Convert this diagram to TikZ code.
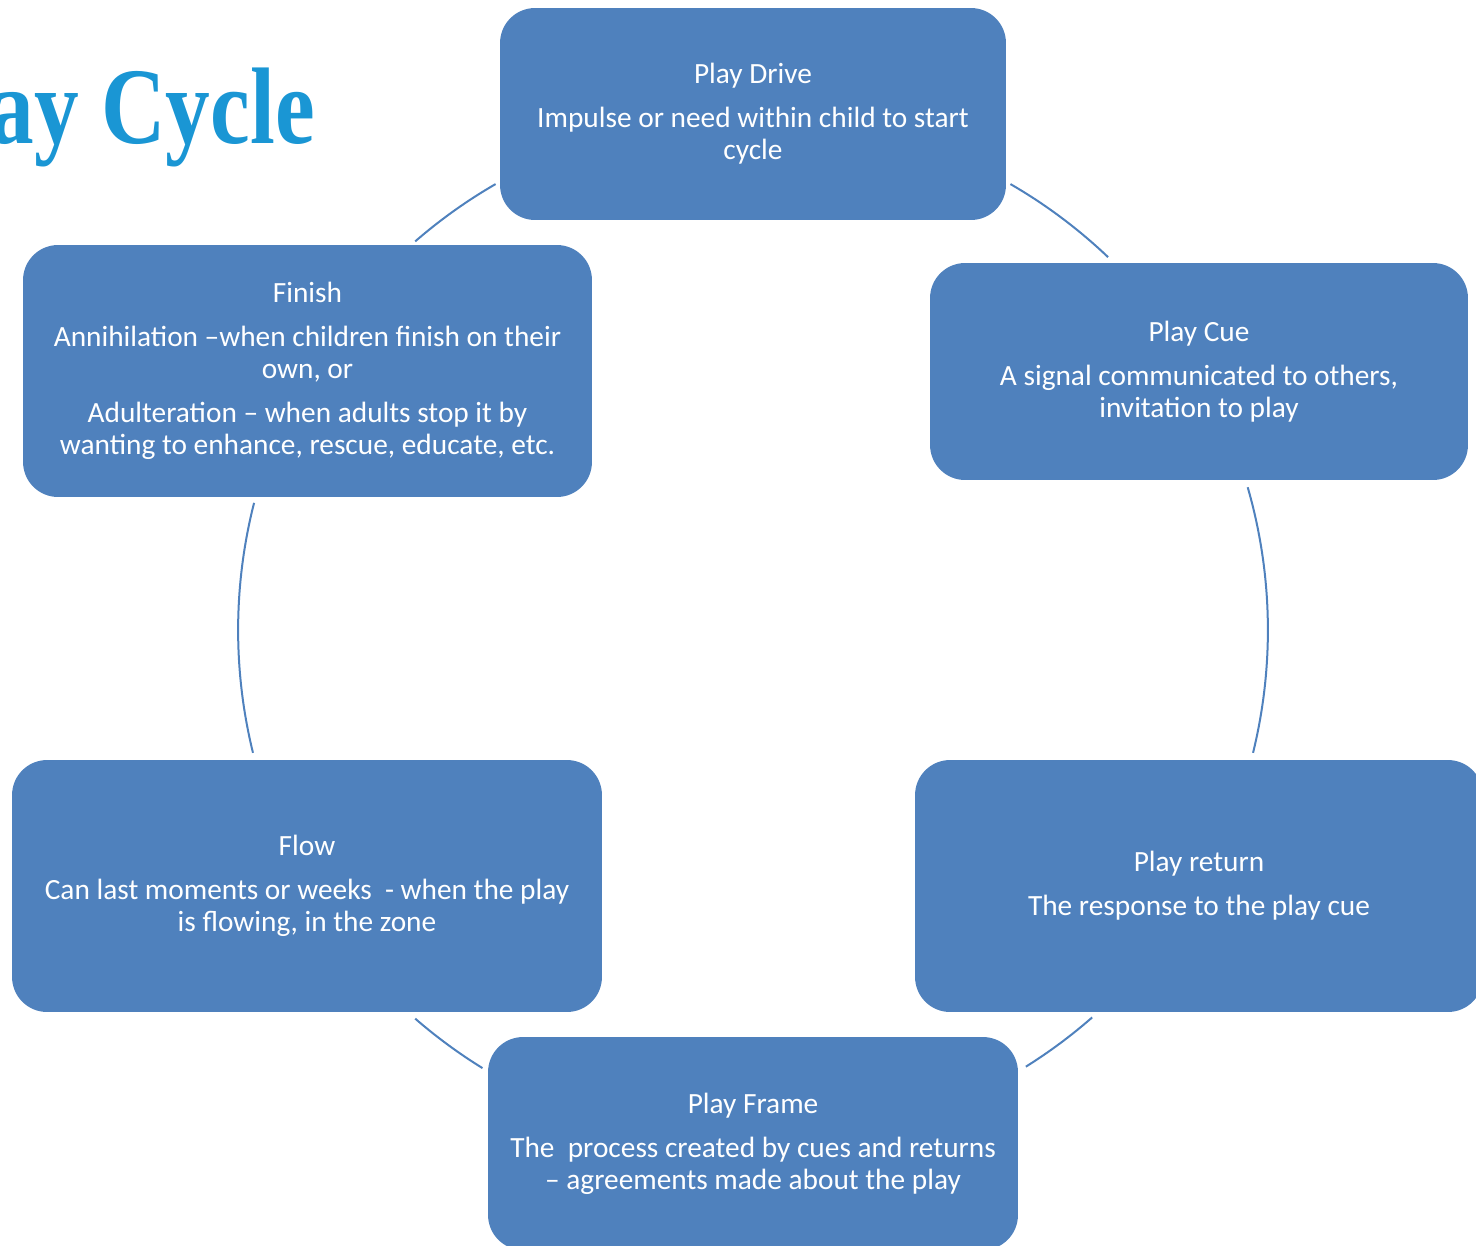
\documentclass[tikz,border=0pt]{standalone}
\usepackage{fontspec}
\setmainfont{Carlito}
\newfontfamily\titlefont{Liberation Serif}
\definecolor{boxblue}{RGB}{79,129,189}
\definecolor{titleblue}{RGB}{26,150,212}
\begin{document}
\begin{tikzpicture}[x=0.02cm, y=0.02cm,
	stage/.style={fill=boxblue, rounded corners=0.7cm, text=white, align=center, inner sep=0pt, font=\fontsize{16.7}{18.2}\selectfont},
	link/.style={draw=boxblue, line width=0.04cm},
	headline/.style={text=titleblue, font=\titlefont\bfseries\fontsize{62}{70}\selectfont, xscale=0.82, inner sep=0pt}]
	
	\useasboundingbox (0, 0) rectangle (1476, -1245);
	\clip (0, 0) rectangle (1476, -1245);
	
	% Titel
	\node[headline, anchor=base east] (title) at (315, -143) {Play Cycle};
	
	% Mittelpunkt des Kreises
	\coordinate (hub) at (753, -630);
	
	% Stationen
	\node[stage, minimum width=10.12cm, minimum height=4.24cm] (drive) at (753, -114) {Play Drive\\[7pt] Impulse or need within child to start\\cycle};
	\node[stage, minimum width=10.76cm, minimum height=4.34cm] (cue) at (1199, -371.5) {Play Cue\\[7pt] A signal communicated to others,\\invitation to play};
	\node[stage, minimum width=11.36cm, minimum height=5.04cm] (return) at (1199, -886) {Play return\\[7pt] The response to the play cue};
	\node[stage, minimum width=10.6cm, minimum height=4.26cm] (frame) at (753, -1143.5) {Play Frame\\[7pt] The\ \ process created by cues and returns\\– agreements made about the play};
	\node[stage, minimum width=11.8cm, minimum height=5.04cm] (flow) at (307, -886) {Flow\\[7pt] Can last moments or weeks\ \ - when the play\\is flowing, in the zone};
	\node[stage, minimum width=11.38cm, minimum height=5.04cm] (finish) at (307.5, -371) {Finish\\[7pt] Annihilation –when children finish on their\\own, or\\[7pt] Adulteration – when adults stop it by\\wanting to enhance, rescue, educate, etc.};
	
	% Verbindungen auf dem Kreis
	\draw[link] ([shift={(60:10.3cm)}]hub) arc[start angle=60, end angle=46.4, radius=10.3cm];
	\draw[link] ([shift={(16.1:10.3cm)}]hub) arc[start angle=16.1, end angle=-13.8, radius=10.3cm];
	\draw[link] ([shift={(-48.8:10.3cm)}]hub) arc[start angle=-48.8, end angle=-58, radius=10.3cm];
	\draw[link] ([shift={(-121.7:10.3cm)}]hub) arc[start angle=-121.7, end angle=-131, radius=10.3cm];
	\draw[link] ([shift={(-166.2:10.3cm)}]hub) arc[start angle=-166.2, end angle=-194.3, radius=10.3cm];
	\draw[link] ([shift={(131:10.3cm)}]hub) arc[start angle=131, end angle=120, radius=10.3cm];
	
\end{tikzpicture}
\end{document}
